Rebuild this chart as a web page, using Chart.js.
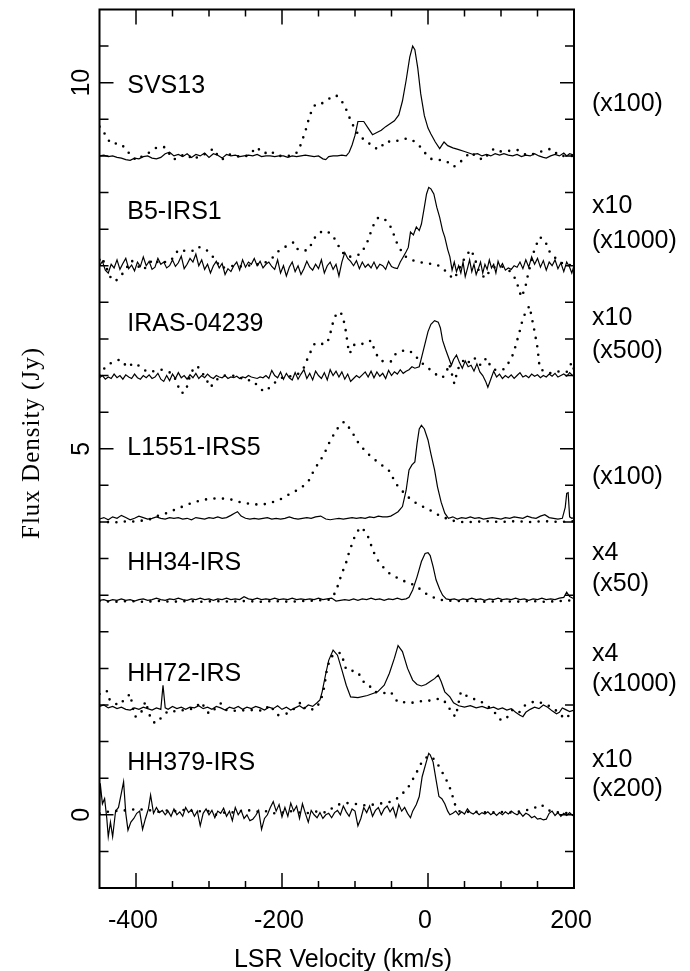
<!DOCTYPE html>
<html>
<head>
<meta charset="utf-8">
<script src="https://cdn.jsdelivr.net/npm/chart.js@4.4.1/dist/chart.umd.min.js"></script>
<style>
  html, body { margin: 0; padding: 0; background: #fff; }
  #wrap { position: relative; width: 690px; height: 971px; }
</style>
</head>
<body>
<div id="wrap"><canvas id="spectra"></canvas></div>
<script>
// velocity (km/s) vs flux density (Jy, offset)
const svs13Solid = [[-450,9.00],[-444,9.01],[-438,8.99],[-432,9.00],[-426,8.98],[-420,8.97],[-414,8.95],[-408,8.94],[-402,8.97],[-396,8.96],[-390,8.99],[-384,9.00],[-378,8.97],[-372,8.96],[-366,8.98],[-360,9.03],[-354,9.05],[-348,9.00],[-342,9.02],[-336,8.99],[-330,9.03],[-324,8.98],[-318,9.02],[-312,9.00],[-306,9.04],[-300,8.98],[-294,9.03],[-288,9.01],[-282,8.97],[-276,9.02],[-270,9.00],[-264,9.01],[-258,8.99],[-252,9.00],[-246,9.01],[-240,9.00],[-234,9.02],[-228,8.99],[-222,9.00],[-216,9.00],[-210,8.99],[-204,9.00],[-198,9.00],[-192,8.98],[-186,9.00],[-180,8.99],[-174,9.00],[-168,9.01],[-162,9.00],[-156,8.99],[-150,9.00],[-144,8.96],[-140,8.95],[-136,8.99],[-130,9.00],[-124,9.00],[-118,9.01],[-112,9.00],[-108,9.05],[-104,9.15],[-100,9.28],[-96,9.47],[-88,9.47],[-82,9.38],[-76,9.29],[-70,9.32],[-64,9.35],[-58,9.40],[-52,9.44],[-46,9.48],[-40,9.56],[-35,9.75],[-30,10.03],[-25,10.35],[-21,10.50],[-18,10.45],[-14,10.20],[-10,9.85],[-5,9.55],[0,9.38],[4,9.30],[10,9.19],[16,9.10],[20,9.16],[22,9.19],[27,9.14],[34,9.11],[41,9.09],[50,9.06],[56,9.04],[62,9.02],[68,9.03],[74,9.00],[80,9.02],[86,9.00],[92,9.03],[98,9.01],[104,9.03],[110,9.01],[116,9.00],[122,9.02],[128,8.99],[134,9.01],[140,9.00],[146,9.03],[152,9.00],[158,8.98],[162,8.97],[168,9.00],[174,9.02],[180,9.00],[186,9.04],[190,9.00],[194,9.03],[200,9.01]];
const svs13Dotted = [[-450,9.40],[-448,9.37],[-441,9.28],[-435,9.17],[-428,9.17],[-422,9.17],[-414,9.10],[-407,9.00],[-399,8.94],[-391,9.00],[-381,9.05],[-371,9.12],[-361,9.12],[-356,9.05],[-348,8.95],[-340,9.00],[-330,9.02],[-322,8.95],[-313,9.00],[-304,9.03],[-294,9.10],[-289,9.02],[-282,8.95],[-272,9.02],[-263,9.00],[-254,8.98],[-244,9.02],[-235,9.12],[-225,9.03],[-216,9.07],[-207,9.00],[-198,9.00],[-188,9.00],[-179,9.05],[-174,9.16],[-167,9.37],[-164,9.48],[-160,9.60],[-154,9.71],[-145,9.72],[-136,9.78],[-126,9.83],[-119,9.76],[-114,9.68],[-109,9.56],[-105,9.46],[-99,9.35],[-93,9.25],[-85,9.22],[-76,9.12],[-67,9.09],[-58,9.20],[-48,9.19],[-38,9.22],[-28,9.24],[-19,9.20],[-12,9.14],[-5,9.05],[4,8.96],[13,8.95],[25,8.93],[35,8.85],[43,8.90],[49,8.97],[59,9.05],[68,8.97],[77,8.95],[84,9.05],[91,9.10],[100,9.06],[112,9.07],[123,9.08],[135,9.01],[147,9.03],[158,9.07],[169,9.10],[180,9.00],[190,9.00],[200,9.00]];

const b5Solid = [[-450,7.50],[-446,7.56],[-442,7.44],[-438,7.40],[-434,7.52],[-430,7.47],[-426,7.58],[-422,7.45],[-418,7.53],[-414,7.60],[-410,7.46],[-406,7.51],[-402,7.43],[-398,7.55],[-394,7.49],[-390,7.62],[-386,7.50],[-382,7.56],[-378,7.45],[-374,7.48],[-370,7.60],[-366,7.52],[-362,7.55],[-358,7.47],[-354,7.50],[-350,7.58],[-346,7.49],[-342,7.54],[-338,7.63],[-334,7.46],[-330,7.52],[-326,7.60],[-322,7.55],[-318,7.66],[-314,7.50],[-310,7.58],[-306,7.45],[-302,7.52],[-298,7.40],[-294,7.50],[-290,7.56],[-286,7.47],[-282,7.53],[-278,7.38],[-274,7.46],[-270,7.42],[-266,7.50],[-262,7.55],[-258,7.44],[-254,7.58],[-250,7.48],[-246,7.55],[-242,7.52],[-238,7.60],[-234,7.50],[-230,7.56],[-226,7.47],[-222,7.52],[-218,7.55],[-214,7.49],[-210,7.45],[-206,7.58],[-202,7.40],[-198,7.50],[-194,7.36],[-190,7.48],[-186,7.55],[-182,7.42],[-178,7.50],[-174,7.38],[-170,7.46],[-166,7.56],[-162,7.48],[-158,7.44],[-154,7.52],[-150,7.46],[-146,7.58],[-142,7.40],[-138,7.50],[-134,7.55],[-130,7.45],[-126,7.52],[-122,7.36],[-118,7.55],[-114,7.68],[-110,7.60],[-106,7.56],[-102,7.50],[-98,7.57],[-94,7.46],[-90,7.55],[-86,7.48],[-82,7.52],[-78,7.47],[-74,7.55],[-70,7.46],[-66,7.52],[-62,7.50],[-58,7.45],[-54,7.56],[-50,7.49],[-46,7.47],[-42,7.46],[-38,7.55],[-34,7.62],[-30,7.69],[-27,7.75],[-24,7.96],[-20,7.92],[-16,8.03],[-12,7.98],[-9,8.07],[-5,8.30],[-2,8.48],[1,8.57],[4,8.55],[8,8.48],[12,8.30],[16,8.16],[20,7.98],[23,7.89],[27,7.72],[30,7.62],[33,7.44],[36,7.55],[39,7.42],[42,7.50],[45,7.40],[48,7.55],[51,7.35],[54,7.46],[57,7.58],[60,7.42],[63,7.52],[66,7.38],[69,7.46],[72,7.55],[75,7.40],[78,7.52],[81,7.45],[84,7.58],[87,7.47],[90,7.52],[93,7.40],[96,7.56],[99,7.48],[102,7.53],[106,7.44],[110,7.47],[114,7.45],[118,7.50],[122,7.48],[126,7.55],[130,7.46],[134,7.58],[138,7.48],[142,7.62],[146,7.52],[150,7.60],[154,7.48],[158,7.57],[162,7.44],[166,7.55],[170,7.50],[174,7.58],[178,7.46],[182,7.54],[186,7.42],[190,7.55],[194,7.48],[197,7.40],[200,7.50]];
const b5Dotted = [[-450,7.58],[-447,7.62],[-440,7.46],[-433,7.30],[-427,7.30],[-420,7.37],[-413,7.47],[-406,7.57],[-398,7.50],[-390,7.44],[-383,7.52],[-376,7.59],[-368,7.53],[-362,7.55],[-355,7.55],[-348,7.62],[-342,7.72],[-331,7.70],[-323,7.70],[-316,7.76],[-305,7.73],[-298,7.66],[-291,7.58],[-284,7.47],[-275,7.48],[-266,7.50],[-257,7.49],[-248,7.50],[-239,7.51],[-225,7.53],[-213,7.61],[-206,7.69],[-197,7.75],[-190,7.79],[-184,7.82],[-179,7.73],[-172,7.70],[-163,7.72],[-158,7.84],[-151,7.94],[-142,7.98],[-133,7.94],[-126,7.84],[-122,7.76],[-118,7.69],[-110,7.62],[-101,7.63],[-92,7.66],[-84,7.80],[-79,7.94],[-74,8.07],[-68,8.16],[-60,8.14],[-53,8.07],[-48,7.96],[-44,7.84],[-37,7.71],[-30,7.62],[-23,7.58],[-12,7.55],[0,7.53],[11,7.52],[20,7.47],[29,7.37],[36,7.32],[45,7.50],[52,7.64],[59,7.72],[64,7.60],[70,7.42],[78,7.33],[86,7.45],[95,7.50],[105,7.48],[114,7.41],[121,7.30],[124,7.19],[128,7.07],[133,7.19],[137,7.38],[142,7.57],[146,7.73],[153,7.89],[160,7.85],[166,7.70],[172,7.63],[178,7.57],[188,7.51],[197,7.51],[200,7.50]];

const irasSolid = [[-450,5.97],[-446,6.00],[-442,5.95],[-438,5.98],[-434,5.96],[-430,6.02],[-426,5.97],[-422,6.00],[-418,5.95],[-414,6.01],[-410,5.98],[-406,5.96],[-402,6.02],[-398,5.97],[-394,5.95],[-390,6.00],[-386,5.97],[-382,6.01],[-378,5.96],[-374,5.98],[-370,6.03],[-366,5.95],[-362,5.92],[-358,6.00],[-354,5.93],[-350,6.02],[-346,5.96],[-342,6.04],[-338,5.97],[-334,6.00],[-330,5.95],[-326,6.01],[-322,5.97],[-318,6.03],[-314,5.96],[-310,6.00],[-306,5.97],[-302,6.02],[-298,5.98],[-294,5.96],[-290,6.00],[-286,5.98],[-282,5.97],[-278,6.00],[-274,5.96],[-270,5.98],[-266,5.97],[-262,5.99],[-258,5.96],[-254,5.98],[-250,5.97],[-246,6.00],[-242,5.98],[-238,5.97],[-234,5.96],[-230,5.98],[-226,5.97],[-222,6.00],[-218,5.96],[-214,6.07],[-210,6.00],[-206,5.97],[-202,6.05],[-198,5.95],[-194,6.03],[-190,5.97],[-186,5.94],[-182,6.04],[-178,5.95],[-174,6.02],[-170,6.08],[-166,5.96],[-162,6.03],[-158,5.94],[-154,6.06],[-150,6.00],[-146,5.96],[-142,6.04],[-138,5.94],[-134,6.08],[-130,6.00],[-126,6.06],[-122,5.98],[-118,6.05],[-114,5.95],[-110,6.02],[-106,5.92],[-102,5.96],[-98,6.00],[-94,5.97],[-90,6.01],[-86,6.05],[-82,5.98],[-78,6.06],[-74,5.97],[-70,6.05],[-66,5.99],[-62,6.03],[-58,5.96],[-54,6.07],[-50,6.00],[-46,6.05],[-42,6.02],[-38,6.08],[-34,6.03],[-30,6.06],[-26,6.08],[-22,6.12],[-18,6.10],[-12,6.12],[-8,6.28],[-4,6.44],[0,6.60],[4,6.70],[9,6.75],[14,6.73],[17,6.65],[20,6.48],[24,6.36],[28,6.25],[32,6.14],[35,6.22],[39,6.28],[43,6.18],[47,6.10],[51,6.20],[55,6.12],[59,6.14],[63,6.06],[67,6.16],[71,6.05],[75,6.00],[79,5.92],[82,5.84],[86,5.95],[90,6.06],[94,5.98],[98,6.02],[102,5.96],[106,6.00],[110,5.97],[114,6.01],[118,5.96],[122,6.00],[126,6.04],[130,5.98],[134,6.00],[138,5.97],[142,6.02],[146,5.99],[150,6.01],[154,5.97],[158,6.00],[162,5.98],[166,6.02],[170,5.99],[174,6.03],[178,5.98],[182,6.00],[186,6.02],[190,5.99],[194,6.04],[198,6.00],[200,5.99]];
const irasDotted = [[-450,6.00],[-447,6.05],[-440,6.14],[-432,6.18],[-422,6.22],[-411,6.11],[-404,6.17],[-395,6.13],[-385,6.05],[-375,6.06],[-365,6.08],[-353,6.04],[-347,5.97],[-343,5.87],[-338,5.76],[-332,5.78],[-326,6.00],[-321,6.10],[-316,6.13],[-306,5.99],[-298,5.84],[-290,5.94],[-280,6.00],[-270,6.00],[-260,5.99],[-250,5.93],[-242,5.94],[-234,5.87],[-225,5.78],[-216,5.84],[-207,5.93],[-198,5.98],[-188,5.99],[-179,6.01],[-170,6.11],[-163,6.28],[-155,6.44],[-147,6.43],[-138,6.44],[-132,6.64],[-129,6.78],[-123,6.87],[-119,6.85],[-115,6.73],[-112,6.58],[-110,6.41],[-107,6.30],[-103,6.41],[-96,6.44],[-87,6.43],[-78,6.48],[-74,6.37],[-70,6.28],[-64,6.20],[-57,6.19],[-51,6.19],[-44,6.30],[-37,6.33],[-30,6.35],[-25,6.33],[-19,6.30],[-12,6.20],[-3,6.13],[4,6.07],[13,6.00],[20,5.97],[26,6.07],[29,6.16],[32,6.05],[36,5.89],[41,6.09],[48,6.20],[54,6.15],[59,6.24],[66,6.23],[72,6.14],[80,6.24],[87,6.10],[94,6.07],[105,6.09],[112,6.20],[117,6.30],[121,6.44],[126,6.62],[130,6.78],[135,6.89],[139,6.95],[143,6.75],[146,6.60],[150,6.38],[153,6.10],[160,6.05],[170,6.03],[180,6.06],[190,6.05],[197,6.18],[200,6.08]];

const l1551Solid = [[-450,4.04],[-444,4.06],[-438,4.03],[-432,4.07],[-426,4.05],[-420,4.09],[-414,4.06],[-408,4.03],[-402,4.05],[-396,4.08],[-390,4.06],[-384,4.04],[-378,4.05],[-372,4.07],[-366,4.05],[-360,4.04],[-354,4.06],[-348,4.05],[-342,4.06],[-336,4.04],[-330,4.05],[-324,4.03],[-318,4.06],[-312,4.05],[-306,4.04],[-300,4.06],[-294,4.05],[-288,4.07],[-282,4.05],[-276,4.06],[-270,4.09],[-265,4.12],[-261,4.14],[-256,4.08],[-250,4.05],[-244,4.04],[-238,4.05],[-232,4.04],[-226,4.05],[-220,4.06],[-214,4.04],[-208,4.05],[-202,4.04],[-196,4.05],[-190,4.07],[-184,4.05],[-178,4.04],[-172,4.05],[-166,4.06],[-160,4.05],[-154,4.07],[-147,4.08],[-140,4.04],[-134,4.03],[-128,4.04],[-122,4.05],[-116,4.04],[-110,4.05],[-104,4.06],[-98,4.05],[-92,4.06],[-86,4.05],[-80,4.07],[-74,4.06],[-68,4.08],[-62,4.07],[-56,4.07],[-51,4.08],[-46,4.11],[-41,4.14],[-35,4.21],[-30,4.43],[-26,4.71],[-22,4.78],[-18,4.82],[-15,5.07],[-12,5.27],[-9,5.32],[-5,5.27],[0,5.12],[4,4.93],[9,4.71],[13,4.48],[18,4.27],[23,4.12],[28,4.05],[34,4.07],[40,4.04],[46,4.06],[52,4.05],[58,4.07],[64,4.05],[70,4.06],[76,4.04],[82,4.05],[88,4.06],[94,4.05],[100,4.04],[106,4.06],[112,4.05],[118,4.07],[124,4.06],[130,4.05],[136,4.08],[142,4.06],[148,4.05],[154,4.08],[160,4.10],[166,4.06],[172,4.05],[178,4.04],[184,4.05],[188,4.20],[190,4.39],[192,4.40],[194,4.07],[197,4.05],[200,4.06]];
const l1551Dotted = [[-450,4.00],[-440,4.00],[-430,3.99],[-420,4.01],[-410,4.00],[-400,4.01],[-390,4.02],[-380,4.04],[-371,4.08],[-358,4.12],[-344,4.18],[-326,4.25],[-310,4.30],[-296,4.32],[-282,4.32],[-271,4.31],[-257,4.27],[-239,4.24],[-225,4.24],[-213,4.27],[-200,4.32],[-188,4.39],[-174,4.46],[-163,4.57],[-156,4.71],[-149,4.82],[-142,4.93],[-137,5.05],[-131,5.16],[-126,5.25],[-122,5.30],[-115,5.37],[-109,5.30],[-103,5.21],[-96,5.09],[-87,4.98],[-78,4.89],[-69,4.82],[-60,4.75],[-51,4.68],[-46,4.55],[-39,4.46],[-32,4.39],[-23,4.30],[-12,4.23],[0,4.18],[9,4.12],[20,4.07],[32,4.02],[45,4.00],[60,4.00],[80,4.01],[100,4.00],[120,4.01],[140,4.00],[160,4.01],[180,4.00],[200,4.01]];

const hh34Solid = [[-450,2.93],[-444,2.94],[-438,2.92],[-432,2.94],[-426,2.93],[-420,2.95],[-414,2.93],[-408,2.94],[-402,2.92],[-396,2.94],[-390,2.95],[-384,2.93],[-378,2.94],[-372,2.96],[-366,2.94],[-360,2.93],[-354,2.95],[-348,2.94],[-342,2.96],[-336,2.94],[-330,2.93],[-324,2.95],[-318,2.94],[-312,2.96],[-306,2.94],[-300,2.95],[-294,2.93],[-288,2.95],[-282,2.94],[-276,2.96],[-270,2.94],[-264,2.95],[-258,2.94],[-252,2.98],[-246,2.95],[-240,2.94],[-234,2.96],[-228,2.94],[-222,2.95],[-216,2.94],[-210,2.96],[-204,2.94],[-198,2.95],[-192,2.94],[-186,2.96],[-180,2.94],[-174,2.95],[-168,2.94],[-162,2.95],[-156,2.94],[-150,2.96],[-144,2.94],[-138,2.95],[-132,2.96],[-126,2.92],[-120,2.93],[-114,2.94],[-108,2.93],[-102,2.95],[-96,2.93],[-90,2.95],[-84,2.94],[-78,2.96],[-72,2.94],[-66,2.95],[-60,2.93],[-54,2.95],[-48,2.94],[-42,2.96],[-36,2.94],[-30,2.95],[-26,2.97],[-21,3.07],[-15,3.25],[-9,3.46],[-4,3.57],[0,3.58],[3,3.54],[7,3.39],[11,3.21],[16,3.08],[20,3.00],[25,2.95],[30,2.94],[36,2.95],[42,2.93],[48,2.95],[54,2.94],[60,2.96],[66,2.94],[72,2.95],[78,2.93],[84,2.95],[90,2.94],[96,2.96],[102,2.94],[108,2.95],[114,2.94],[120,2.96],[126,2.94],[132,2.95],[138,2.93],[144,2.95],[150,2.94],[156,2.96],[162,2.94],[168,2.95],[174,2.94],[180,2.96],[186,2.97],[190,3.04],[194,2.98],[200,2.95]];
const hh34Dotted = [[-450,2.92],[-430,2.91],[-410,2.92],[-390,2.91],[-370,2.92],[-350,2.91],[-330,2.92],[-310,2.91],[-290,2.92],[-270,2.91],[-250,2.92],[-230,2.91],[-210,2.92],[-190,2.91],[-170,2.92],[-150,2.93],[-138,2.93],[-133,2.95],[-126,3.05],[-122,3.18],[-117,3.32],[-112,3.45],[-108,3.59],[-103,3.73],[-99,3.84],[-92,3.93],[-85,3.86],[-80,3.75],[-76,3.62],[-69,3.48],[-62,3.39],[-53,3.30],[-41,3.23],[-30,3.18],[-19,3.14],[-9,3.07],[0,3.00],[10,2.96],[20,2.93],[40,2.92],[60,2.92],[80,2.91],[100,2.92],[120,2.91],[140,2.92],[160,2.91],[180,2.92],[200,2.93]];

const hh72Solid = [[-450,1.48],[-444,1.50],[-438,1.46],[-432,1.48],[-426,1.45],[-420,1.47],[-414,1.44],[-408,1.43],[-402,1.46],[-396,1.44],[-390,1.47],[-384,1.45],[-378,1.43],[-372,1.46],[-366,1.44],[-363,1.77],[-360,1.46],[-356,1.44],[-350,1.48],[-344,1.45],[-338,1.47],[-332,1.44],[-326,1.47],[-320,1.46],[-314,1.49],[-308,1.45],[-302,1.47],[-296,1.44],[-290,1.48],[-284,1.46],[-278,1.43],[-272,1.47],[-266,1.45],[-260,1.48],[-254,1.44],[-248,1.47],[-242,1.45],[-236,1.48],[-230,1.46],[-224,1.43],[-218,1.47],[-212,1.45],[-206,1.49],[-200,1.44],[-194,1.47],[-188,1.43],[-182,1.46],[-176,1.49],[-170,1.45],[-164,1.50],[-158,1.48],[-152,1.53],[-148,1.57],[-145,1.68],[-140,1.93],[-136,2.11],[-130,2.25],[-124,2.18],[-118,1.98],[-112,1.77],[-106,1.61],[-96,1.60],[-83,1.63],[-69,1.68],[-60,1.77],[-53,1.93],[-46,2.14],[-41,2.31],[-35,2.23],[-28,2.00],[-21,1.84],[-15,1.78],[-9,1.76],[-3,1.78],[3,1.82],[9,1.86],[14,1.91],[18,1.82],[23,1.68],[30,1.61],[35,1.53],[42,1.49],[50,1.47],[58,1.49],[66,1.46],[74,1.48],[82,1.45],[90,1.47],[96,1.44],[102,1.46],[108,1.43],[114,1.45],[120,1.40],[126,1.36],[130,1.34],[134,1.40],[140,1.44],[146,1.47],[152,1.45],[158,1.50],[164,1.47],[170,1.42],[176,1.38],[180,1.40],[184,1.46],[188,1.44],[194,1.41],[200,1.43]];
const hh72Dotted = [[-450,1.65],[-447,1.68],[-440,1.69],[-436,1.57],[-430,1.52],[-422,1.50],[-416,1.58],[-408,1.65],[-404,1.45],[-401,1.34],[-394,1.37],[-387,1.55],[-380,1.32],[-374,1.25],[-366,1.32],[-356,1.42],[-343,1.41],[-331,1.44],[-320,1.45],[-311,1.54],[-300,1.38],[-290,1.46],[-284,1.52],[-276,1.43],[-262,1.42],[-248,1.43],[-236,1.43],[-225,1.42],[-217,1.50],[-206,1.36],[-194,1.38],[-183,1.45],[-174,1.54],[-168,1.44],[-155,1.44],[-147,1.55],[-142,1.75],[-138,2.02],[-132,2.16],[-126,2.21],[-119,2.21],[-112,1.98],[-105,1.97],[-96,1.95],[-89,1.82],[-83,1.80],[-74,1.68],[-62,1.66],[-51,1.68],[-44,1.57],[-40,1.53],[-31,1.54],[-22,1.53],[-13,1.55],[-4,1.55],[8,1.57],[17,1.59],[26,1.52],[33,1.38],[38,1.34],[45,1.68],[52,1.63],[59,1.59],[68,1.57],[77,1.52],[86,1.45],[93,1.38],[100,1.29],[107,1.31],[116,1.44],[125,1.40],[132,1.49],[146,1.55],[155,1.53],[164,1.50],[171,1.45],[178,1.41],[187,1.31],[196,1.38],[200,1.40]];

const hh379Solid = [[-450,0.05],[-449,0.43],[-446,0.15],[-443,0.22],[-440,-0.05],[-438,-0.30],[-435,-0.10],[-432,-0.30],[-428,0.05],[-424,0.10],[-420,0.30],[-417,0.45],[-414,0.02],[-411,-0.21],[-407,-0.10],[-403,-0.05],[-399,0.02],[-395,0.05],[-391,-0.20],[-387,-0.05],[-383,0.08],[-380,0.27],[-376,0.02],[-372,0.10],[-368,0.03],[-364,0.06],[-360,0.00],[-356,0.05],[-352,-0.02],[-348,0.08],[-344,0.00],[-340,0.04],[-336,-0.02],[-332,0.10],[-328,0.03],[-324,0.07],[-320,-0.02],[-316,0.05],[-312,-0.15],[-308,0.02],[-304,0.08],[-300,0.00],[-296,0.06],[-292,-0.04],[-288,0.05],[-284,0.02],[-280,0.09],[-276,-0.02],[-272,0.05],[-268,-0.08],[-264,0.10],[-260,0.00],[-256,0.06],[-252,-0.05],[-248,0.00],[-244,-0.08],[-240,-0.06],[-236,-0.01],[-232,0.06],[-228,-0.20],[-224,-0.05],[-220,0.00],[-216,0.10],[-212,0.18],[-208,0.05],[-204,0.14],[-200,-0.03],[-196,0.10],[-192,-0.02],[-188,0.16],[-184,0.05],[-180,0.12],[-176,-0.05],[-172,0.15],[-168,0.02],[-164,-0.10],[-160,0.06],[-156,0.00],[-152,-0.04],[-148,0.03],[-144,-0.05],[-140,0.00],[-136,0.02],[-132,-0.04],[-128,0.03],[-124,0.06],[-120,0.00],[-116,0.12],[-112,0.04],[-108,-0.02],[-104,0.08],[-100,0.05],[-96,-0.15],[-92,-0.05],[-88,0.10],[-84,0.03],[-80,0.12],[-76,-0.02],[-72,0.06],[-68,0.10],[-64,0.00],[-60,0.08],[-56,0.12],[-52,0.04],[-48,0.10],[-44,-0.03],[-40,0.14],[-36,0.05],[-32,0.10],[-28,0.02],[-24,-0.04],[-21,0.05],[-16,0.14],[-12,0.25],[-8,0.52],[-3,0.70],[1,0.84],[3,0.82],[7,0.72],[11,0.48],[15,0.25],[19,0.22],[23,0.15],[27,0.05],[30,0.00],[34,0.02],[38,0.05],[42,0.00],[46,0.04],[50,0.01],[54,0.08],[58,0.03],[62,0.01],[66,0.04],[70,0.00],[74,0.03],[78,0.01],[82,0.04],[86,0.00],[90,0.03],[94,-0.01],[98,0.03],[102,0.00],[106,0.04],[110,0.01],[114,0.05],[118,0.02],[122,0.00],[126,0.03],[130,-0.02],[134,0.02],[138,0.00],[142,-0.04],[146,-0.02],[150,-0.06],[154,-0.05],[158,-0.07],[162,-0.06],[166,0.02],[170,0.05],[174,-0.01],[178,0.03],[182,-0.02],[186,0.02],[190,-0.01],[194,0.03],[198,-0.01],[200,0.01]];
const hh379Dotted = [[-450,0.02],[-440,0.04],[-430,0.05],[-420,0.06],[-410,0.06],[-400,0.08],[-390,0.07],[-380,0.06],[-370,0.04],[-360,0.06],[-350,0.05],[-340,0.05],[-330,0.08],[-320,0.04],[-310,0.05],[-300,0.05],[-290,0.00],[-280,0.03],[-270,0.03],[-260,0.04],[-250,0.07],[-240,0.05],[-230,0.04],[-220,0.05],[-210,0.02],[-200,0.03],[-190,0.05],[-180,0.04],[-170,0.02],[-160,0.03],[-150,0.05],[-140,0.03],[-130,0.10],[-120,0.15],[-110,0.16],[-100,0.15],[-90,0.13],[-80,0.13],[-70,0.15],[-60,0.16],[-50,0.18],[-44,0.21],[-37,0.27],[-28,0.36],[-21,0.48],[-14,0.61],[-8,0.73],[0,0.80],[4,0.80],[11,0.73],[18,0.61],[25,0.48],[32,0.32],[36,0.16],[42,0.05],[55,0.04],[70,0.04],[85,0.03],[100,0.04],[115,0.03],[130,0.05],[145,0.09],[155,0.14],[165,0.06],[180,0.03],[200,0.02]];

const sources = ['SVS13', 'B5-IRS1', 'IRAS-04239', 'L1551-IRS5', 'HH34-IRS', 'HH72-IRS', 'HH379-IRS'];
const scaleNotes = [['(x100)'], ['x10', '(x1000)'], ['x10', '(x500)'], ['(x100)'], ['x4', '(x50)'], ['x4', '(x1000)'], ['x10', '(x200)']];
const xTickLabels = [-400, -200, 0, 200];
const yTickLabels = [0, 5, 10];

// layout of the text (data units), kept apart from the values
const nameAt = { v: -412, y: [9.96, 8.23, 6.70, 5.01, 3.44, 1.92, 0.70] };
const noteAt = [[9.71], [8.32, 7.83], [6.78, 6.33], [4.61], [3.57, 3.15], [2.20, 1.79], [0.75, 0.35]];

const solids = [svs13Solid, b5Solid, irasSolid, l1551Solid, hh34Solid, hh72Solid, hh379Solid];
const dotteds = [svs13Dotted, b5Dotted, irasDotted, l1551Dotted, hh34Dotted, hh72Dotted, hh379Dotted];

const toPts = arr => arr.map(p => ({ x: p[0], y: p[1] }));
const datasets = [];
sources.forEach((name, i) => {
  datasets.push({
    label: name + ' solid', data: toPts(solids[i]),
    borderColor: '#000', borderWidth: 1.2, pointRadius: 0, tension: 0
  });
  datasets.push({
    label: name + ' dotted', data: toPts(dotteds[i]),
    borderColor: '#000', borderWidth: 2.6, borderDash: [0, 8.5], borderCapStyle: 'round',
    pointRadius: 0, tension: 0
  });
});

const SANS = '"Liberation Sans", Arial, Helvetica, sans-serif';

const framePlugin = {
  id: 'frame',
  afterDatasetsDraw(chart) {
    const { ctx, chartArea: a, scales: { x, y } } = chart;
    ctx.save();
    ctx.strokeStyle = '#000';
    ctx.fillStyle = '#000';

    // ticks, inward on all four sides
    ctx.lineWidth = 1.5;
    ctx.beginPath();
    for (let v = -400; v < 200; v += 50) {
      const px = x.getPixelForValue(v);
      const len = v % 200 === 0 ? 15 : 7;
      ctx.moveTo(px, a.bottom); ctx.lineTo(px, a.bottom - len);
      ctx.moveTo(px, a.top); ctx.lineTo(px, a.top + len);
    }
    for (let k = -1; k <= 21; k++) {
      const v = k * 0.5;
      const py = y.getPixelForValue(v);
      const len = v % 5 === 0 ? 14 : 9;
      ctx.moveTo(a.left, py); ctx.lineTo(a.left + len, py);
      ctx.moveTo(a.right, py); ctx.lineTo(a.right - len, py);
    }
    ctx.stroke();

    ctx.lineWidth = 2;
    ctx.strokeRect(a.left, a.top, a.right - a.left, a.bottom - a.top);

    // x tick labels
    ctx.font = '25px ' + SANS;
    ctx.textAlign = 'center';
    ctx.textBaseline = 'alphabetic';
    xTickLabels.forEach(v => ctx.fillText(String(v), x.getPixelForValue(v) - 3, 928));

    // y tick labels, rotated
    yTickLabels.forEach(v => {
      ctx.save();
      ctx.translate(89, y.getPixelForValue(v));
      ctx.rotate(-Math.PI / 2);
      ctx.fillText(String(v), 0, 0);
      ctx.restore();
    });

    // axis titles
    ctx.fillText('LSR Velocity (km/s)', 343, 967);
    ctx.save();
    ctx.font = '25px "Liberation Serif", "Times New Roman", serif';
    ctx.letterSpacing = '1px';
    ctx.translate(39, 443);
    ctx.rotate(-Math.PI / 2);
    ctx.fillText('Flux Density (Jy)', 0, 0);
    ctx.restore();

    // source names and scale notes
    ctx.font = '25px ' + SANS;
    ctx.textAlign = 'left';
    ctx.textBaseline = 'middle';
    const nx = x.getPixelForValue(nameAt.v);
    sources.forEach((name, i) => {
      ctx.fillText(name, nx, y.getPixelForValue(nameAt.y[i]));
      scaleNotes[i].forEach((t, j) => ctx.fillText(t, 592, y.getPixelForValue(noteAt[i][j])));
    });
    ctx.restore();
  }
};

new Chart(document.getElementById('spectra'), {
  type: 'line',
  data: { datasets },
  options: {
    responsive: true,
    maintainAspectRatio: false,
    animation: false,
    layout: { padding: { left: 0, right: 116, top: 9.5, bottom: 0 } },
    plugins: { legend: { display: false }, tooltip: { enabled: false } },
    scales: {
      x: {
        type: 'linear', min: -450, max: 200,
        grid: { display: false }, border: { display: false }, ticks: { display: false },
        afterFit(s) { s.height = 83; }
      },
      y: {
        type: 'linear', min: -1, max: 11,
        grid: { display: false }, border: { display: false }, ticks: { display: false },
        afterFit(s) { s.width = 99.5; }
      }
    }
  },
  plugins: [framePlugin]
});
</script>
</body>
</html>
